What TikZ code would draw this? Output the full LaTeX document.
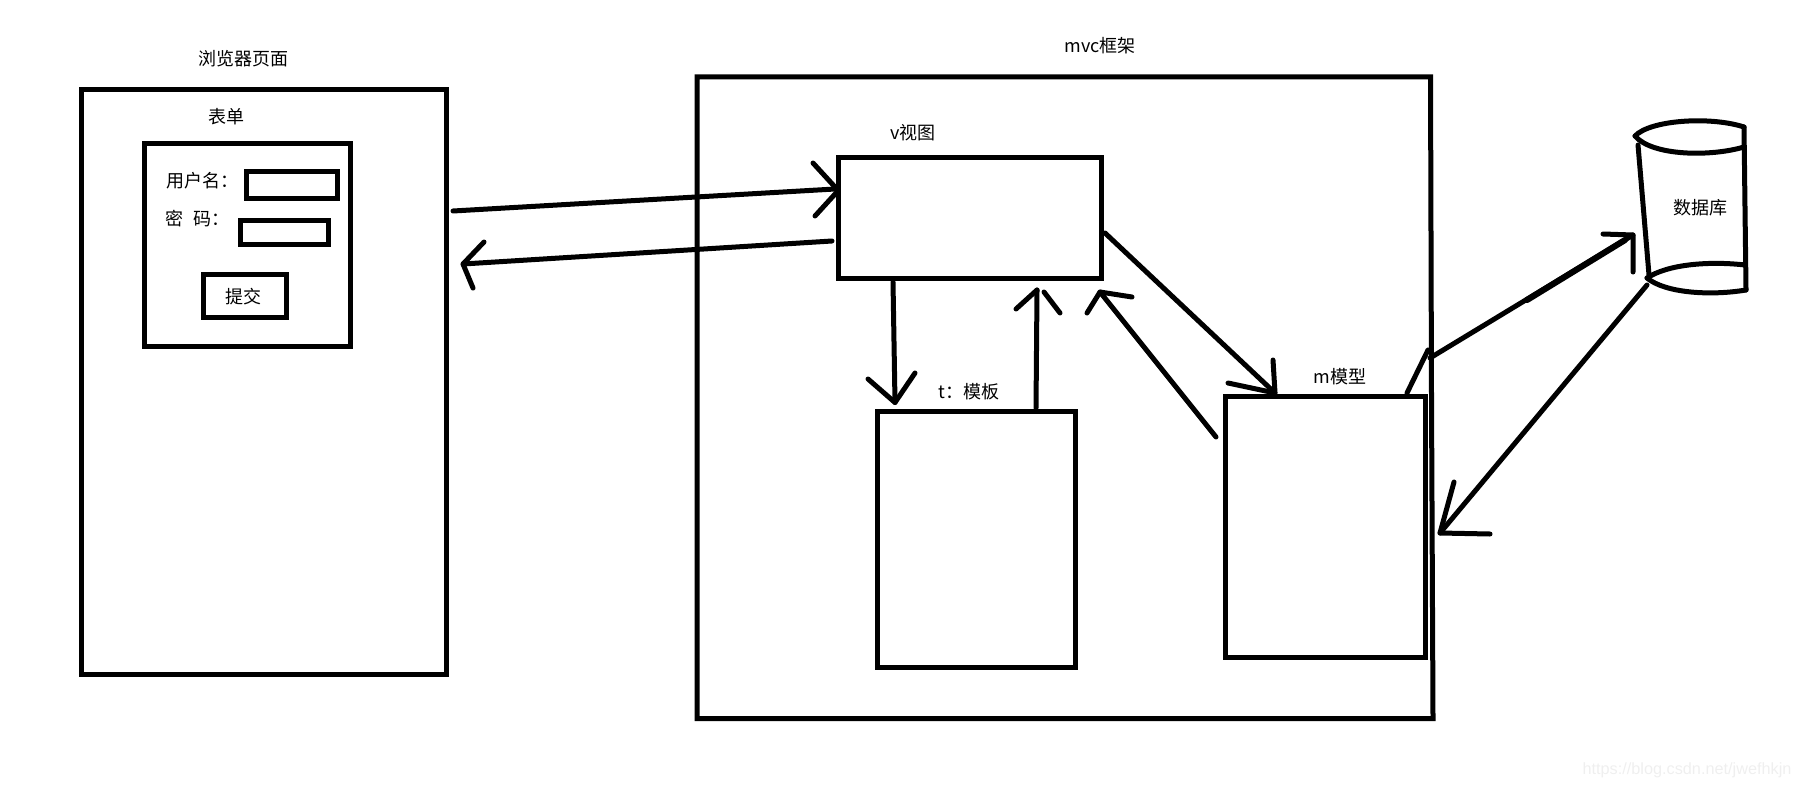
\documentclass[tikz,border=0pt]{standalone}
\usepackage{fontspec}
\setmainfont{Noto Sans CJK SC}
\newfontfamily\wmfont{Liberation Sans}
\definecolor{wmgray}{HTML}{EFEFEF}
\newcommand{\pxbox}[5]{\node[boxshape, minimum width={(#4-#2)*0.75pt}, minimum height={(#5-#3)*0.75pt}] (#1) at ({(#2+#4)/2},{(#3+#5)/2}) {};}
\tikzset{
  x=0.75pt, y=-0.75pt,
  boxshape/.style={draw=black, line width=3.75pt, rectangle, inner sep=0pt, fill=none},
  label/.style={inner sep=0pt, font=\fontsize{13.5pt}{16pt}\selectfont, text=black},
  pen/.style={draw=black, line width=3.75pt, line cap=round, line join=round},
}
\begin{document}
\begin{tikzpicture}
\useasboundingbox (0,0) rectangle (1797,788);
% boxes
\pxbox{browser}{81.5}{89.5}{446.5}{674}
\pxbox{form}{144}{143.5}{350.5}{346}
\pxbox{userinput}{246}{171}{337.5}{198}
\pxbox{pwinput}{240}{220}{328.5}{244.5}
\pxbox{submit}{203}{274}{286.5}{317}
\pxbox{view}{838}{157.5}{1101.5}{278}
\pxbox{tmpl}{877.5}{411}{1075.5}{667}
\pxbox{model}{1225}{396}{1425}{657}
% mvc frame (right side is slightly stepped)
\coordinate (mvcTL) at (697,77);
\coordinate (mvcTR) at (1430.5,77);
\coordinate (mvcR1) at (1431.5,400);
\coordinate (mvcR2) at (1433,718.5);
\coordinate (mvcBL) at (697,718.5);
\draw[draw=black, line width=3.75pt, line join=miter] (mvcTR) -- (mvcTL) -- (mvcBL) -- (mvcR2) -- (mvcR1) -- cycle;
% labels
\node[label] (tBrowser) at (243,59) {浏览器页面};
\node[label] (tForm) at (226,117) {表单};
\node[label, anchor=west] (tUser) at (166,181) {用户名：};
\node[label, anchor=west] (tPw) at (165,219) {密\hspace{0.55em}码：};
\node[label] (tSubmit) at (243,297) {提交};
\node[label] (tMvc) at (1100,46) {mvc框架};
\node[label] (tView) at (913,132.5) {v视图};
\node[label, anchor=west] (tTmpl) at (938,392) {t：模板};
\node[label] (tModel) at (1340,377) {m模型};
\node[label] (tDb) at (1700,208) {数据库};
\node[font=\wmfont\fontsize{12.2pt}{14pt}\selectfont, text=wmgray, inner sep=0pt] (wm) at (1687,770) {https://blog.csdn.net/jwefhkjn};
% browser to view
\coordinate (a1s) at (453,211); \coordinate (a1e) at (835,189);
\coordinate (a1h1) at (813,163); \coordinate (a1t1) at (835,187);
\coordinate (a1h2) at (815,216); \coordinate (a1t2) at (836,193);
\draw[pen] (a1s) -- (a1e);
\draw[pen] (a1h1) -- (a1t1);
\draw[pen] (a1h2) -- (a1t2);
% view to browser
\coordinate (a2s) at (832,241); \coordinate (a2e) at (463,264);
\coordinate (a2h1) at (484,242); \coordinate (a2h2) at (473,288);
\draw[pen] (a2s) -- (a2e);
\draw[pen] (a2h1) -- (a2e) -- (a2h2);
% view to template
\coordinate (a3s) at (893,282); \coordinate (a3e) at (895,402.5);
\coordinate (a3h1) at (868,379); \coordinate (a3h2) at (915,373);
\draw[pen] (a3s) -- (a3e);
\draw[pen] (a3h1) -- (a3e) -- (a3h2);
% template to view
\coordinate (a4s) at (1036,408); \coordinate (a4e) at (1037,290);
\coordinate (a4h1) at (1016,309); \coordinate (a4h2a) at (1044,292); \coordinate (a4h2b) at (1060,313);
\draw[pen] (a4s) -- (a4e);
\draw[pen] (a4h1) -- (a4e);
\draw[pen] (a4h2a) -- (a4h2b);
% view to model
\coordinate (a5s) at (1105,233); \coordinate (a5e) at (1275,393);
\coordinate (a5h1) at (1228,383); \coordinate (a5h2) at (1273,360);
\draw[pen] (a5s) -- (a5e);
\draw[pen] (a5h1) -- (a5e) -- (a5h2);
% model to view
\coordinate (a6s) at (1216,437); \coordinate (a6e) at (1100,292);
\coordinate (a6h1) at (1087,313); \coordinate (a6h2) at (1132,297);
\draw[pen] (a6s) -- (a6e);
\draw[pen] (a6h1) -- (a6e) -- (a6h2);
% model to database
\coordinate (a7a) at (1407,393); \coordinate (a7b) at (1428,350);
\coordinate (a7s) at (1430,358); \coordinate (a7e) at (1633,235);
\coordinate (a7h1) at (1603,234); \coordinate (a7h2) at (1633,272);
\coordinate (a7t1) at (1527,300); \coordinate (a7t2) at (1625,240);
\draw[pen] (a7a) -- (a7b);
\draw[pen] (a7s) -- (a7e);
\draw[draw=black, line width=4.6pt, line cap=round] (a7t1) -- (a7t2);
\draw[pen] (a7h1) -- (a7e) -- (a7h2);
% database to model
\coordinate (a8s) at (1647,285); \coordinate (a8e) at (1440,533);
\coordinate (a8h1) at (1454,482); \coordinate (a8h2) at (1490,534);
\draw[pen] (a8s) -- (a8e);
\draw[pen] (a8h1) -- (a8e) -- (a8h2);
% database cylinder
\coordinate (dbTL) at (1635,136); \coordinate (dbTR) at (1744,127); \coordinate (dbTRb) at (1744,147);
\coordinate (dbL1) at (1638,145); \coordinate (dbL2) at (1649,275);
\coordinate (dbBL) at (1647,278); \coordinate (dbBR1) at (1745,265); \coordinate (dbBR2) at (1746,290);
\draw[pen] (dbTL) .. controls (1650,120) and (1710,116) .. (dbTR);
\draw[pen] (dbTL) .. controls (1652,156) and (1710,157) .. (dbTRb);
\draw[pen] (dbTR) -- (dbBR2);
\draw[pen] (dbL1) -- (dbL2);
\draw[pen] (dbBL) .. controls (1668,264) and (1710,261) .. (dbBR1);
\draw[pen] (dbBL) .. controls (1665,293) and (1710,296) .. (dbBR2);
\end{tikzpicture}
\end{document}
